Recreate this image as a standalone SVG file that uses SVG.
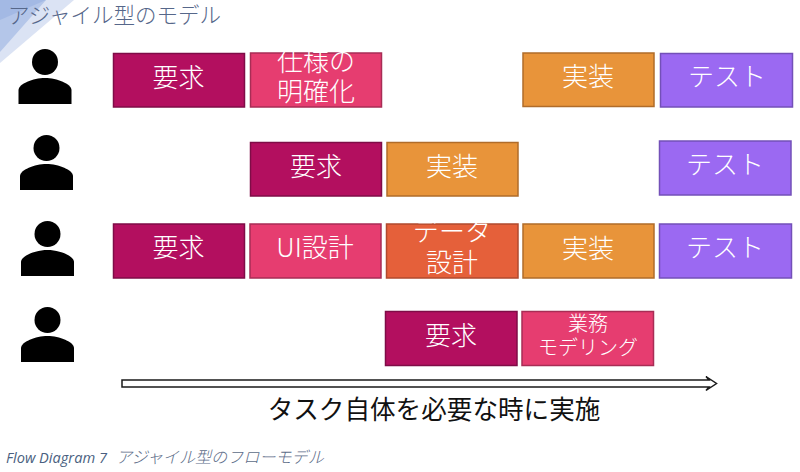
<svg xmlns="http://www.w3.org/2000/svg" width="800" height="472" viewBox="0 0 800 472">
<style>
.b{stroke-width:1.5}
.req{fill:#b30f5f;stroke:#7f0c47}
.spec{fill:#e63d70;stroke:#a82d55}
.impl{fill:#e8943a;stroke:#b06c2a}
.test{fill:#9b69f2;stroke:#7350b8}
.data{fill:#e5603a;stroke:#b04a2e}
text{font-family:"Noto Sans CJK JP","Noto Sans",sans-serif;text-anchor:middle}
.w{fill:#fff;font-size:26px;font-weight:300}
.s{font-size:20px}
</style>
<defs>
<g id="person"><circle cx="0" cy="-27" r="13"/><path d="M-26.500 15V1C-26.500 -5 -12 -11 0 -11C12 -11 26.500 -5 26.500 1V15Z"/></g>
</defs>
<polygon points="0,0 74,0 0,63" fill="#dbe3f4"/>
<polygon points="0,0 46,0 0,52" fill="#b4c6e9"/>
<polygon points="0,0 46,0 0,20" fill="#a3b9e4"/>
<text x="8" y="23" style="text-anchor:start;font-size:21.500px;font-weight:300" fill="#56678a">アジャイル型のモデル</text>
<g id="users">
<use id="user1" href="#person" x="45" y="89"/>
<use id="user2" href="#person" x="46.500" y="175"/>
<use id="user3" href="#person" x="47.500" y="261"/>
<use id="user4" href="#person" x="47.500" y="347"/>
</g>
<g id="n1"><rect class="b req" x="113.500" y="53.500" width="131" height="53.500"/><text class="w" x="178.500" y="87">要求</text></g>
<g id="n2"><rect class="b spec" x="250.500" y="53" width="131" height="54"/><text class="w" x="316" y="71">仕様の</text><text class="w" x="316" y="101">明確化</text></g>
<g id="n3"><rect class="b impl" x="523" y="53" width="131" height="53.500"/><text class="w" x="588" y="86">実装</text></g>
<g id="n4"><rect class="b test" x="660.500" y="53.500" width="132" height="53.500"/><text class="w" x="727" y="86">テスト</text></g>
<g id="n5"><rect class="b req" x="250.500" y="142.500" width="131" height="53.500"/><text class="w" x="316" y="176">要求</text></g>
<g id="n6"><rect class="b impl" x="387" y="142.500" width="131" height="53.500"/><text class="w" x="452" y="176">実装</text></g>
<g id="n7"><rect class="b test" x="659.500" y="141" width="131.500" height="54"/><text class="w" x="725" y="174">テスト</text></g>
<g id="n8"><rect class="b req" x="113.500" y="224" width="131" height="54"/><text class="w" x="178.500" y="257">要求</text></g>
<g id="n9"><rect class="b spec" x="250" y="224" width="131" height="54"/><text class="w" x="315" y="257">UI設計</text></g>
<g id="n10"><rect class="b data" x="386.500" y="224" width="131.500" height="54"/><text class="w" x="452" y="241">データ</text><text class="w" x="452" y="272">設計</text></g>
<g id="n11"><rect class="b impl" x="523" y="224" width="131" height="54"/><text class="w" x="588" y="258">実装</text></g>
<g id="n12"><rect class="b test" x="659.500" y="224" width="132" height="54"/><text class="w" x="725" y="257">テスト</text></g>
<g id="n13"><rect class="b req" x="385.500" y="311.500" width="131.500" height="54"/><text class="w" x="451" y="345">要求</text></g>
<g id="n14"><rect class="b spec" x="522" y="311.500" width="131.500" height="54"/><text class="w s" x="588" y="331">業務</text><text class="w s" x="588" y="355">モデリング</text></g>
<g id="connectors">
<polygon points="122,380 709,380 706,376.500 716.500,383.500 706,390.500 709,387 122,387" fill="#fff" stroke="#1a1a1a" stroke-width="1.500"/>
</g>
<text x="434" y="419" font-size="25.600" fill="#111">タスク自体を必要な時に実施</text>
<text x="6" y="463" style="text-anchor:start;font-family:'Open Sans','Noto Sans',sans-serif;font-style:italic;font-weight:500;font-size:14.600px" fill="#4a5f80">Flow Diagram 7</text>
<text x="116" y="463" style="text-anchor:start;font-family:'Noto Sans CJK JP',sans-serif;font-style:italic;font-size:16.100px;font-weight:300" fill="#5c6c88">アジャイル型のフローモデル</text>
</svg>
